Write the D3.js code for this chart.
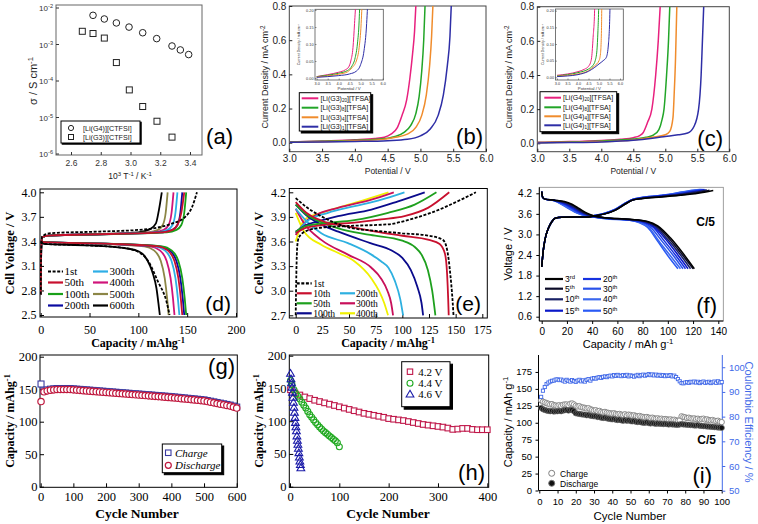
<!DOCTYPE html>
<html><head><meta charset="utf-8">
<script src="https://cdn.jsdelivr.net/npm/d3@7"></script>
<style>body{margin:0;background:#fff}svg{display:block}</style>
</head><body>
<svg id="c" width="758" height="524"></svg>
<script>
// ---------------- DATA ----------------
// (a) conductivity
const aTicksX = [2.6, 2.8, 3.0, 3.2, 3.4];
const aTicksY = [1e-2, 1e-3, 1e-4, 1e-5, 1e-6];
const aTickExp = ["-2", "-3", "-4", "-5", "-6"];
const aG4x = [2.748, 2.824, 2.905, 2.99, 3.082, 3.176, 3.279, 3.335, 3.391];
const aG4y = [6.3e-3, 5.0e-3, 3.9e-3, 3.0e-3, 2.1e-3, 1.45e-3, 9.1e-4, 7.1e-4, 5.3e-4];
const aG3x = [2.676, 2.748, 2.824, 2.905, 2.992, 3.082, 3.178, 3.279];
const aG3y = [2.3e-3, 2.0e-3, 1.5e-3, 3.2e-4, 5.7e-5, 2.0e-5, 7.9e-6, 2.9e-6];
const aLegend = ["[Li(G4)][CTFSI]", "[Li(G3)][CTFSI]"];

// (b),(c) LSV curves [V, mA cm-2]
const potTicks = [3.0, 3.5, 4.0, 4.5, 5.0, 5.5, 6.0];
const curTicks = [0.0, 0.2, 0.4, 0.6, 0.8];
const insetTicksY = [0.00, 0.05, 0.10, 0.15, 0.20];
const bCurves = [
  [[3.0,0.004],[3.5,0.01],[4.0,0.017],[4.3,0.024],[4.45,0.032],[4.55,0.05],[4.65,0.09],[4.72,0.16],[4.79,0.25],[4.84,0.38],[4.88,0.52],[4.91,0.65],[4.93,0.8]],
  [[3.0,0.004],[3.5,0.008],[4.0,0.014],[4.4,0.022],[4.6,0.035],[4.75,0.06],[4.85,0.1],[4.93,0.17],[4.98,0.27],[5.02,0.42],[5.05,0.6],[5.07,0.8]],
  [[3.0,0.003],[3.5,0.006],[4.0,0.011],[4.4,0.018],[4.6,0.03],[4.8,0.05],[4.93,0.09],[5.02,0.16],[5.09,0.28],[5.14,0.45],[5.17,0.62],[5.19,0.8]],
  [[3.0,0.002],[3.5,0.004],[4.0,0.007],[4.5,0.012],[4.8,0.02],[5.0,0.04],[5.15,0.08],[5.27,0.16],[5.35,0.28],[5.41,0.45],[5.45,0.62],[5.47,0.8]]
];
const cCurves = [
  [[3.0,0.006],[3.5,0.01],[4.0,0.017],[4.3,0.024],[4.5,0.033],[4.6,0.045],[4.65,0.06],[4.72,0.12],[4.79,0.2],[4.85,0.4],[4.89,0.6],[4.92,0.8]],
  [[3.0,0.004],[3.5,0.008],[4.0,0.014],[4.5,0.025],[4.7,0.035],[4.82,0.05],[4.9,0.08],[4.95,0.14],[4.98,0.2],[5.02,0.4],[5.05,0.6],[5.07,0.8]],
  [[3.0,0.003],[3.5,0.006],[4.0,0.01],[4.5,0.02],[4.8,0.035],[5.0,0.05],[5.07,0.07],[5.12,0.15],[5.14,0.3],[5.16,0.5],[5.17,0.65],[5.18,0.8]],
  [[3.0,0.002],[3.5,0.004],[4.0,0.008],[4.5,0.018],[4.8,0.03],[5.0,0.04],[5.2,0.05],[5.35,0.06],[5.45,0.1],[5.52,0.2],[5.56,0.4],[5.58,0.6],[5.6,0.8]]
];
const lsvColors = ["#e8207e", "#22a528", "#f08c2c", "#2e2ea6"];
const bLegend = [["[Li(G3)","20","][TFSA]"],["[Li(G3)","8","][TFSA]"],["[Li(G3)","4","][TFSA]"],["[Li(G3)","1","][TFSA]"]];
const cLegend = [["[Li(G4)","20","][TFSA]"],["[Li(G4)","8","][TFSA]"],["[Li(G4)","4","][TFSA]"],["[Li(G4)","1","][TFSA]"]];

// (d) charge/discharge curves [mAh/g, V]
const dTicksX = [0, 50, 100, 150, 200];
const dTicksY = [2.5, 2.8, 3.1, 3.4, 3.7, 4.0];
const dNames = ["1st", "50th", "100th", "200th", "300th", "400th", "500th", "600th"];
const dColors = ["#000", "#c8102e", "#18a018", "#0a0aa0", "#2eaee6", "#d0147a", "#8c8646", "#000"];
const dCharge = [
  [[0,2.75],[0.5,3.3],[1.5,3.46],[10,3.5],[60,3.52],[100,3.54],[120,3.57],[135,3.62],[148,3.7],[155,3.82],[160,4.0]],
  [[0,2.75],[0.5,3.3],[1.5,3.45],[8,3.47],[70,3.49],[125,3.51],[135,3.54],[140,3.6],[144,3.75],[147,4.0]],
  [[0,2.75],[0.5,3.3],[1.5,3.45],[8,3.47],[75,3.49],[129,3.51],[139,3.54],[144,3.6],[147,3.75],[149,4.0]],
  [[0,2.75],[0.5,3.3],[1.5,3.45],[8,3.47],[72,3.49],[125,3.51],[135,3.54],[140,3.6],[143,3.75],[145,4.0]],
  [[0,2.75],[0.5,3.3],[1.5,3.45],[8,3.47],[70,3.49],[120,3.51],[130,3.54],[135,3.6],[138,3.75],[140,4.0]],
  [[0,2.75],[0.5,3.3],[1.5,3.45],[8,3.47],[68,3.49],[116,3.51],[126,3.54],[131,3.6],[134,3.75],[136,4.0]],
  [[0,2.75],[0.5,3.3],[1.5,3.45],[8,3.47],[65,3.49],[110,3.51],[120,3.54],[125,3.6],[128,3.75],[130,4.0]],
  [[0,2.75],[0.5,3.3],[1.5,3.45],[8,3.47],[62,3.49],[100,3.51],[112,3.55],[118,3.62],[121,3.78],[124,4.0]]
];
const dDischarge = [
  [[0,3.4],[3,3.37],[50,3.35],[85,3.32],[100,3.27],[110,3.16],[120,2.91],[128.7,2.67],[132,2.5]],
  [[0,3.41],[3,3.39],[72,3.37],[120,3.34],[130,3.29],[137,3.16],[141,2.95],[143.5,2.7],[145,2.5]],
  [[0,3.41],[3,3.39],[75,3.37],[124,3.34],[134,3.29],[141,3.16],[145,2.95],[147.5,2.7],[149,2.5]],
  [[0,3.41],[3,3.39],[73,3.37],[122,3.34],[132,3.29],[139,3.16],[143,2.95],[145.5,2.7],[147,2.5]],
  [[0,3.41],[3,3.39],[71,3.37],[117,3.34],[127,3.29],[134,3.16],[138,2.95],[140.5,2.7],[142,2.5]],
  [[0,3.41],[3,3.39],[68,3.37],[112,3.34],[122,3.29],[129,3.16],[133,2.95],[135.5,2.7],[137,2.5]],
  [[0,3.41],[3,3.39],[65,3.37],[106,3.34],[116,3.29],[123,3.16],[127,2.95],[129.5,2.7],[131,2.5]],
  [[0,3.4],[3,3.37],[50,3.35],[90,3.31],[100,3.28],[106.5,3.22],[112,3.1],[115,3.0],[118.5,2.83],[121,2.6],[122,2.5]]
];

// (e)
const eTicksX = [0, 25, 50, 75, 100, 125, 150, 175];
const eTicksY = [2.7, 3.0, 3.3, 3.6, 3.9, 4.2];
const eNames = ["1st", "10th", "50th", "100th", "200th", "300th", "400th"];
const eColors = ["#000", "#c8102e", "#1ea01e", "#0a0a8c", "#2eb0e0", "#c8105a", "#f0f000"];
const eCharge = [
  [[0,2.7],[0.6,3.2],[1.5,3.55],[3,3.65],[10,3.73],[25,3.77],[50,3.79],[87,3.81],[110,3.88],[127,3.95],[155,4.11],[169,4.2]],
  [[0,3.7],[10,3.77],[25,3.8],[55,3.83],[80,3.87],[102,3.91],[124,4.01],[144,4.2]],
  [[0,3.72],[10,3.79],[25,3.82],[55,3.86],[86.6,3.95],[111.6,4.05],[132,4.2]],
  [[0,3.72],[10,3.8],[25,3.86],[39.7,3.91],[71,3.99],[96,4.09],[121,4.2]],
  [[0,3.7],[10,3.84],[30.3,3.95],[55.3,4.03],[80.3,4.11],[102,4.2]],
  [[0,3.68],[10,3.85],[20,3.93],[39.7,4.01],[71,4.11],[92,4.2]],
  [[0,3.6],[8.4,3.87],[24,3.95],[55.3,4.07],[87,4.2]]
];
const eDischarge = [
  [[0,4.13],[10,4.02],[25,3.9],[50,3.77],[75,3.73],[100,3.7],[125,3.67],[138,3.62],[142,3.5],[145,3.2],[147,2.9],[148,2.7]],
  [[0,4.08],[10,3.95],[25,3.85],[50,3.78],[75,3.72],[100,3.67],[125,3.62],[135,3.57],[140,3.45],[142,3.2],[143,2.9],[143.5,2.7]],
  [[0,4.05],[10,3.93],[25,3.83],[40,3.76],[70,3.68],[100,3.61],[112,3.53],[118,3.44],[124,3.25],[128,3.0],[131,2.7]],
  [[0,4.05],[10,3.92],[25,3.8],[40,3.72],[70,3.58],[90,3.49],[100,3.4],[108,3.25],[114,3.05],[118,2.85],[119.5,2.7]],
  [[0,4.0],[10,3.85],[24,3.7],[49,3.58],[71,3.44],[80,3.36],[87,3.28],[93,3.12],[98,2.9],[100.7,2.7]],
  [[0,4.0],[8,3.82],[24,3.62],[49,3.44],[71,3.28],[80,3.15],[86,3.0],[89.5,2.85],[91.3,2.7]],
  [[0,3.95],[8,3.72],[24,3.56],[40,3.46],[55,3.36],[71,3.15],[78,3.0],[83,2.85],[86.6,2.7]]
];

// (f)
const fTicksX = [0, 20, 40, 60, 80, 100, 120, 140];
const fTicksY = [0.6, 1.2, 1.8, 2.4, 3.0, 3.6, 4.2];
const fNames = [["3","rd"],["5","th"],["10","th"],["15","th"],["20","th"],["30","th"],["40","th"],["50","th"]];
const fColors = ["#000000", "#0c0c28", "#1a2266", "#0a18c8", "#1632e0", "#2a52ea", "#3c68ee", "#2a5af5"];
const fCharge = [
  [[0,2.05],[1.3,2.55],[2.6,2.85],[5.3,3.18],[8,3.37],[10.6,3.47],[16,3.5],[37,3.51],[42,3.54],[50,3.6],[58,3.7],[66,3.88],[72,4.0],[80,4.05],[95,4.09],[110,4.14],[124,4.2],[136,4.28]],
  [[0,2.05],[1.3,2.55],[2.6,2.85],[5.3,3.18],[8,3.37],[10.6,3.47],[16,3.5],[37,3.51],[42,3.54],[50,3.6],[58,3.7],[66,3.88],[72,4.0],[80,4.05],[95,4.1],[110,4.15],[122,4.21],[133,4.29]],
  [[0,2.05],[1.3,2.55],[2.6,2.85],[5.3,3.18],[8,3.37],[10.6,3.47],[16,3.5],[37,3.51],[42,3.54],[50,3.6],[58,3.71],[66,3.89],[72,4.0],[80,4.06],[95,4.11],[110,4.17],[121,4.23],[131,4.3]],
  [[0,2.05],[1.3,2.55],[2.6,2.85],[5.3,3.18],[8,3.37],[10.6,3.47],[16,3.5],[37,3.51],[42,3.54],[50,3.6],[58,3.71],[66,3.89],[72,4.01],[80,4.06],[95,4.12],[110,4.18],[120,4.24],[130,4.3]],
  [[0,2.05],[1.3,2.55],[2.6,2.85],[5.3,3.18],[8,3.37],[10.6,3.47],[16,3.5],[37,3.51],[42,3.55],[50,3.61],[58,3.72],[66,3.9],[72,4.01],[78,4.06],[95,4.13],[110,4.19],[119,4.25],[129,4.31]],
  [[0,2.05],[1.3,2.55],[2.6,2.85],[5.3,3.18],[8,3.37],[10.6,3.47],[16,3.5],[37,3.51],[42,3.55],[50,3.61],[58,3.72],[66,3.9],[72,4.02],[78,4.06],[95,4.13],[108,4.2],[118,4.26],[128,4.31]],
  [[0,2.05],[1.3,2.55],[2.6,2.85],[5.3,3.18],[8,3.37],[10.6,3.47],[16,3.5],[37,3.51],[42,3.55],[50,3.62],[58,3.73],[66,3.91],[72,4.02],[78,4.07],[95,4.14],[108,4.21],[117,4.27],[127,4.31]],
  [[0,2.05],[1.3,2.55],[2.6,2.85],[5.3,3.18],[8,3.37],[10.6,3.47],[16,3.5],[37,3.51],[42,3.55],[50,3.62],[58,3.73],[66,3.91],[72,4.02],[78,4.07],[95,4.14],[107,4.21],[116,4.27],[126,4.31]]
];
const fDischarge = [
  [[0,4.25],[0.8,4.08],[2.6,4.03],[10,4.0],[18,3.96],[24,3.88],[30,3.75],[36,3.62],[42,3.54],[50,3.49],[70,3.44],[84,3.38],[92,3.25],[102,2.9],[112,2.45],[121,2.0]],
  [[0,4.25],[0.8,4.08],[2.6,4.03],[10,4.0],[18,3.95],[24,3.86],[30,3.72],[36,3.6],[42,3.53],[50,3.49],[70,3.44],[83,3.38],[91,3.25],[101,2.88],[111,2.43],[120,2.0]],
  [[0,4.25],[0.8,4.08],[2.6,4.03],[10,4.0],[18,3.93],[24,3.83],[30,3.69],[36,3.58],[42,3.52],[50,3.48],[70,3.43],[82,3.37],[90,3.24],[100,2.85],[110,2.4],[118,2.0]],
  [[0,4.25],[0.8,4.08],[2.6,4.03],[10,4.0],[18,3.91],[24,3.8],[30,3.67],[36,3.57],[42,3.52],[50,3.48],[70,3.43],[81,3.37],[89,3.23],[99,2.83],[108,2.4],[116,2.0]],
  [[0,4.25],[0.8,4.08],[2.6,4.03],[10,3.99],[17,3.9],[23,3.79],[29,3.66],[35,3.57],[42,3.51],[50,3.48],[70,3.42],[80,3.36],[88,3.22],[97,2.82],[106,2.4],[114,2.0]],
  [[0,4.25],[0.8,4.08],[2.6,4.03],[10,3.99],[17,3.89],[23,3.77],[29,3.64],[35,3.56],[42,3.51],[50,3.47],[70,3.42],[79,3.36],[86,3.22],[95,2.82],[104,2.4],[112,2.0]],
  [[0,4.25],[0.8,4.08],[2.6,4.03],[10,3.98],[16,3.88],[22,3.76],[28,3.63],[34,3.55],[42,3.5],[50,3.47],[70,3.41],[78,3.35],[85,3.2],[93,2.8],[102,2.38],[110,2.0]],
  [[0,4.25],[0.8,4.08],[2.6,4.03],[10,3.98],[16,3.87],[22,3.74],[28,3.62],[34,3.55],[42,3.5],[50,3.46],[70,3.41],[77,3.35],[84,3.2],[92,2.8],[100,2.38],[108,2.0]]
];

// (g) cycling 600 cycles
const gTicksX = [0, 100, 200, 300, 400, 500, 600];
const capTicks = [0, 50, 100, 150, 200];
const gCycle = [1,10,20,30,40,50,60,70,80,90,100,110,120,130,140,150,160,170,180,190,200,210,220,230,240,250,260,270,280,290,300,310,320,330,340,350,360,370,380,390,400,410,420,430,440,450,460,470,480,490,500,510,520,530,540,550,560,570,580,590,600];
const gDischarge = [131,146,147.5,148.5,149,149.5,149.5,149.5,149.5,149.5,149,148.6,148.2,147.8,147.4,147,146.6,146.2,145.8,145.4,145,144.6,144.2,143.8,143.4,143,142.6,142.2,141.8,141.4,141,140.6,140.2,139.8,139.4,139,138.6,138.2,137.8,137.4,137,136.5,136,135.5,135,134.5,134,133.5,133,132.5,132,131,130,129,128,127,126,125,124,122.5,121];
const gCharge = [158,147.5,149,150,150.5,151,151,151,151,151,150.5,150,149.7,149.3,148.9,148.5,148.1,147.7,147.3,146.9,146.5,146.1,145.7,145.3,144.9,144.5,144.1,143.7,143.3,142.9,142.5,142.1,141.7,141.3,140.9,140.5,140.1,139.7,139.3,138.9,138.5,138,137.5,137,136.5,136,135.5,135,134.5,134,133.5,132.5,131.5,130.5,129.5,128.5,127.5,126.5,125.5,124,122.5];

// (h) cut-off voltage
const hTicksX = [0, 100, 200, 300, 400];
const h42Cycle = [1,10,20,30,40,50,60,70,80,90,100,110,120,130,140,150,160,170,180,190,200,210,220,230,240,250,260,270,280,290,300,310,320,330,340,350,360,370,380,390,400];
const h42 = [148,143,140,137,134.5,132,130,128,126,124,122,120,118,116,114,112,110.5,109,107.5,106,104,103,102,101,99.5,98,96.5,95,94,93,92,91,89.5,87.5,88,89,89,87.5,87,87,87];
const h44Cycle = [1,4,8,12,16,20,24,28,32,36,40,44,48,52,56,60,64,68,72,76,80,84,88,92,96,100];
const h44 = [162,156,148,142,138,134,129,124.5,120,115,110,106,102,98,94.5,91,88,85,82.5,80,77.5,75,72.5,70,67,61];
const h46Cycle = [1,2,3,4,5,6,7,8,9,10,11,12,13,14,15,16,17,18,19,20,21,22];
const h46 = [172,163.6,157.6,150.9,143.2,135.5,127.8,120.1,112.4,104.7,97,90.3,84.2,76.5,69.8,63.7,57.5,50.8,44.1,38,32.8,27.7];
const hLegend = ["4.2 V", "4.4 V", "4.6 V"];

// (i) 100 cycles with coulombic efficiency
const iTicksX = [0,10,20,30,40,50,60,70,80,90,100];
const iTicksL = [0,25,50,75,100,125,150,175];
const iTicksR = [50,60,70,80,90,100];
const iCycle = [1,2,3,4,5,6,7,8,9,10,11,12,13,14,15,16,17,18,19,20,21,22,23,24,25,26,27,28,29,30,31,32,33,34,35,36,37,38,39,40,41,42,43,44,45,46,47,48,49,50,51,52,53,54,55,56,57,58,59,60,61,62,63,64,65,66,67,68,69,70,71,72,73,74,75,76,77,78,79,80,81,82,83,84,85,86,87,88,89,90,91,92,93,94,95,96,97,98,99,100];
const iCharge = [133,131,130,129,128,127,127.5,126,125.5,125,126,125,126.5,127,127,126,128,128.5,127,125,124,124.5,123,122.5,122,121,121.5,120,119,118,118.5,117,117.5,116,115.5,116,115,114.5,114,113.5,114,113,112.5,113,112,111.5,112.5,111,112,111.5,110.5,111,110,109.5,110,109,108.5,108,108.5,107.5,107,107.5,106.5,106,106.5,105.5,106,105,105.5,105,104.5,105,104,104.5,103.5,103,103.5,109.5,108.5,108,107,107.5,106.5,106,106.5,105.5,106,105,105.5,106,104.5,105,104,103.5,104,103,102.5,103,101.5,101];
const iDischarge = [122,120,119,118,117.5,117,117.5,116.5,117,117,117.5,117,118,118.5,119,118,119,119,117,114,113.5,113,112.5,112,112,111,111.5,110.5,110,109.5,109.5,108.5,108.5,107.5,107,107.5,106.5,106,105.5,105,105.5,104.5,104,104.5,103.5,103,104,103,103.5,102.5,102,102.5,101.5,101,101.5,100.5,100,100,100.5,99.5,99,99.5,99,98.5,99,98.5,98.5,98,98.5,98,97.5,98,97.5,97.5,97,97,97.5,98,97.5,97.5,97,97,96.5,96.5,96,96,96.5,95.5,95.5,95,95,94.5,94.5,94,94,93.5,93.5,93,93,92.5];
const iCE = [88,90.5,92,93.2,93.8,94.2,94.5,94.6,95,95.1,94.8,95,94.6,94.2,94.9,94.5,94.2,94.8,94.4,94.1,94.6,94.9,94.3,94.7,94.2,94.9,95.2,94.6,95.4,95.6,95.4,95.8,96,95.7,96.1,96.3,96,96.4,96.6,96.3,96.8,96.5,96.9,96.6,96.4,96.8,96.5,96.9,96.3,96.7,96.5,96.2,96.6,96.9,96.4,96.8,97,96.6,96.9,97.2,96.8,97.1,96.7,97,96.6,96.9,96.5,96.8,96.4,96.7,96.5,96.8,96.3,96.6,96,95.2,94.3,93.6,93.5,93.8,94,93.7,94.1,93.9,94.2,93.8,94.1,93.6,94,94.2,93.7,93.9,94.1,93.6,93.9,94.2,93.7,94.3,93.8,94];

// ---------------- DRAWING ----------------
const svg = d3.select('#c');
const SANS = "'Liberation Sans', Arial, Helvetica, sans-serif";
const SERIF = "'Liberation Serif', 'Times New Roman', Times, serif";
const ln = (xs, ys) => d3.line().x(d => xs(d[0])).y(d => ys(d[1])).curve(d3.curveMonotoneX);

function box(x0, y0, x1, y1, stroke = '#000', sw = 1, fill = 'none') {
  return svg.append('rect').attr('x', x0).attr('y', y0).attr('width', x1 - x0).attr('height', y1 - y0)
    .attr('fill', fill).attr('stroke', stroke).attr('stroke-width', sw);
}
function clip(id, x0, y0, x1, y1) {
  svg.append('clipPath').attr('id', id).append('rect').attr('x', x0).attr('y', y0).attr('width', x1 - x0).attr('height', y1 - y0);
}
function txt(x, y, parts, o = {}) {
  const t = svg.append('text').attr('x', x).attr('y', y).attr('font-family', o.font || SANS)
    .attr('font-size', o.fs || 10).attr('text-anchor', o.anchor || 'start').attr('fill', o.color || '#000');
  if (o.bold) t.attr('font-weight', 'bold');
  if (o.italic) t.attr('font-style', 'italic');
  if (o.rot) t.attr('transform', `rotate(${o.rot},${x},${y})`);
  (typeof parts === 'string' ? [[parts]] : parts).forEach(([s, k]) => {
    const ts = t.append('tspan').text(s);
    if (k === 'sup') ts.attr('baseline-shift', 'super').attr('font-size', '70%');
    if (k === 'sub') ts.attr('baseline-shift', 'sub').attr('font-size', '70%');
    if (k === 'lowsub') ts.attr('baseline-shift', '-1.2').attr('font-size', '65%');
  });
  return t;
}
function axB(scale, y, vals, fmt, o) {
  const g = svg.append('g').attr('transform', `translate(0,${y})`)
    .call(d3.axisBottom(scale).tickValues(vals).tickFormat(fmt).tickSizeInner(-(o.tick || 4)).tickSizeOuter(0)
      .tickPadding(o.base - y - 0.71 * o.fs));
  g.select('.domain').remove();
  g.selectAll('text').attr('font-family', o.font).attr('font-size', o.fs).attr('fill', o.color || '#000');
  g.selectAll('line').attr('stroke', o.color || '#000').attr('stroke-width', o.tw || 1);
  return g;
}
function axL(scale, x, vals, fmt, o) {
  const g = svg.append('g').attr('transform', `translate(${x},0)`)
    .call(d3.axisLeft(scale).tickValues(vals).tickFormat(fmt).tickSizeInner(-(o.tick || 4)).tickSizeOuter(0)
      .tickPadding(x - o.right));
  g.select('.domain').remove();
  g.selectAll('text').attr('font-family', o.font).attr('font-size', o.fs).attr('fill', o.color || '#000');
  g.selectAll('line').attr('stroke', o.color || '#000').attr('stroke-width', o.tw || 1);
  return g;
}
function axR(scale, x, vals, fmt, o) {
  const g = svg.append('g').attr('transform', `translate(${x},0)`)
    .call(d3.axisRight(scale).tickValues(vals).tickFormat(fmt).tickSizeInner(-(o.tick || 4)).tickSizeOuter(0)
      .tickPadding(o.left - x));
  g.select('.domain').remove();
  g.selectAll('text').attr('font-family', o.font).attr('font-size', o.fs).attr('fill', o.color || '#000');
  g.selectAll('line').attr('stroke', o.color || '#000').attr('stroke-width', o.tw || 1);
  return g;
}
function shadowBox(x0, y0, x1, y1, off = 2) {
  box(x0 + off, y0 + off, x1 + off, y1 + off, '#000', 1, '#000');
  box(x0, y0, x1, y1, '#000', 1, '#fff');
}
const f1 = d => d.toFixed(1);
const f0 = d => String(d);

// ===== (a) =====
{
  const x = d3.scaleLinear([2.6, 3.4], [71, 190]);
  const y = d3.scaleLog([1e-6, 1e-2], [154, 8]);
  box(56, 5, 202, 155, '#666', 1);
  axB(x, 155, aTicksX, f1, { base: 166, fs: 8.5, font: SANS, tick: 3, color: '#333' });
  aTicksY.forEach((v, i) => {
    svg.append('line').attr('x1', 56).attr('x2', 59).attr('y1', y(v)).attr('y2', y(v)).attr('stroke', '#333');
    txt(53, y(v) + 3, [["10"], [aTickExp[i], 'sup']], { fs: 8, anchor: 'end', color: '#333' });
  });
  aG3x.forEach((v, i) => svg.append('rect').attr('x', x(v) - 3).attr('y', y(aG3y[i]) - 3).attr('width', 6).attr('height', 6)
    .attr('fill', '#fff').attr('stroke', '#222').attr('stroke-width', 1));
  aG4x.forEach((v, i) => svg.append('circle').attr('cx', x(v)).attr('cy', y(aG4y[i])).attr('r', 3.3)
    .attr('fill', '#fff').attr('stroke', '#222').attr('stroke-width', 1));
  shadowBox(61, 121, 140, 143, 1.2);
  svg.append('circle').attr('cx', 71).attr('cy', 128).attr('r', 2.6).attr('fill', '#fff').attr('stroke', '#222');
  svg.append('rect').attr('x', 68.5).attr('y', 134.5).attr('width', 5).attr('height', 5).attr('fill', '#fff').attr('stroke', '#222');
  txt(83, 130.5, aLegend[0], { fs: 7.2, color: '#222' });
  txt(83, 139.5, aLegend[1], { fs: 7.2, color: '#222' });
  txt(37, 81, [["σ / S cm"], ["-1", 'sup']], { fs: 11, anchor: 'middle', rot: -90, color: '#222' });
  txt(130, 179, [["10"], ["3", 'sup'], [" T"], ["-1", 'sup'], [" / K"], ["-1", 'sup']], { fs: 8.5, anchor: 'middle', color: '#222' });
  txt(233, 144, "(a)", { fs: 22, anchor: 'end' });
}

// ===== (b),(c) =====
function lsvPanel(P) {
  const x = d3.scaleLinear([3, 6], [P.x0, P.x1]);
  const y = d3.scaleLinear([0, 0.8], [P.y0, P.y8]);
  clip(P.id, P.fx0, P.y8, P.fx1, P.fy1);
  box(P.fx0, P.y8, P.fx1, P.fy1, '#444', 1);
  axB(x, P.fy1, potTicks, f1, { base: 162, fs: 10, font: SANS, tick: 3, color: '#222' });
  axL(y, P.fx0, curTicks, f1, { right: P.fx0 - 3, fs: 10, font: SANS, tick: 3, color: '#222' });
  P.curves.forEach((c, i) => svg.append('path').datum(c).attr('d', ln(x, y)).attr('fill', 'none')
    .attr('stroke', lsvColors[i]).attr('stroke-width', 1.5).attr('clip-path', `url(#${P.id})`));
  // inset
  const I = P.inset;
  const xi = d3.scaleLinear([3, 6], [I.x0, I.x1]);
  const yi = d3.scaleLinear([0, 0.2], [I.y0, I.y2]);
  clip(P.id + 'i', I.fx0, I.fy0, I.fx1, I.fy1);
  box(I.fx0, I.fy0, I.fx1, I.fy1, '#555', 0.8, '#fff');
  axB(xi, I.fy1, potTicks, f1, { base: I.fy1 + 5, fs: 3.8, font: SANS, tick: 1.5, color: '#333', tw: 0.5 });
  axL(yi, I.fx0, insetTicksY, d => d.toFixed(2), { right: I.fx0 - 1.5, fs: 3.8, font: SANS, tick: 1.5, color: '#333', tw: 0.5 });
  P.curves.forEach((c, i) => svg.append('path').datum(c).attr('d', ln(xi, yi)).attr('fill', 'none')
    .attr('stroke', lsvColors[i]).attr('stroke-width', 1).attr('clip-path', `url(#${P.id}i)`));
  txt((I.fx0 + I.fx1) / 2, I.fy1 + 10, "Potential / V", { fs: 4.3, anchor: 'middle', color: '#333' });
  txt(I.lx, (I.fy0 + I.fy1) / 2, [["Current Density / mA cm"], ["-2", 'sup']], { fs: 3.6, anchor: 'middle', rot: -90, color: '#333' });
  // legend
  const L = P.leg;
  shadowBox(L.x0, L.y0, L.x1, L.y1, 2);
  P.legend.forEach((t, i) => {
    svg.append('line').attr('x1', L.lx0).attr('x2', L.lx1).attr('y1', L.ys[i]).attr('y2', L.ys[i])
      .attr('stroke', lsvColors[i]).attr('stroke-width', 2);
    txt(L.tx, L.ys[i] + 2.5, [[t[0]], [t[1], 'lowsub'], [t[2]]], { fs: 7, color: '#111' });
  });
  txt(P.ylx, 77, [["Current Density / mA cm"], ["-2", 'sup']], { fs: 9, anchor: 'middle', rot: -90, color: '#222' });
  txt((P.fx0 + P.fx1) / 2, 174, "Potential / V", { fs: 8.5, anchor: 'middle', color: '#222' });
  txt(P.labX, P.labY, P.lab, { fs: 22, anchor: 'end' });
}
lsvPanel({ id: 'cb', x0: 289.3, x1: 486, y0: 142.7, y8: 6, fx0: 289.3, fx1: 486, fy1: 151.7, curves: bCurves, legend: bLegend,
  inset: { x0: 316.7, x1: 382.7, y0: 78, y2: 10, fx0: 315, fx1: 383.3, fy0: 9.3, fy1: 80, lx: 300.5 },
  leg: { x0: 299.3, y0: 92.7, x1: 370.7, y1: 131, lx0: 301.7, lx1: 318.3, tx: 320.5, ys: [98.3, 107.7, 117.3, 126.7] },
  ylx: 268, lab: "(b)", labX: 483, labY: 144 });
lsvPanel({ id: 'cc', x0: 537.3, x1: 729.3, y0: 143.3, y8: 6.7, fx0: 537.3, fx1: 729.3, fy1: 151.7, curves: cCurves, legend: cLegend,
  inset: { x0: 557, x1: 620, y0: 77.3, y2: 10.7, fx0: 555.5, fx1: 623.3, fy0: 9, fy1: 80, lx: 543.5 },
  leg: { x0: 540, y0: 91.7, x1: 616.7, y1: 131.7, lx0: 544.3, lx1: 561, tx: 563, ys: [97.7, 107.3, 116.3, 125.3] },
  ylx: 512, lab: "(c)", labX: 723, labY: 146 });

// ===== (d) =====
{
  const x = d3.scaleLinear([0, 200], [40.7, 236]);
  const y = d3.scaleLinear([2.5, 4.0], [315, 192.3]);
  clip('cd', 40, 189, 237, 317);
  box(40, 189, 237, 317, '#000', 1);
  axB(x, 317, dTicksX, f0, { base: 334, fs: 12, font: SERIF, tick: 4 });
  axL(y, 40, dTicksY, f1, { right: 36.5, fs: 12, font: SERIF, tick: 4 });
  for (let i = dNames.length - 1; i >= 0; i--) {
    [dCharge[i], dDischarge[i]].forEach(c => {
      const p = svg.append('path').datum(c).attr('d', ln(x, y)).attr('fill', 'none').attr('stroke', dColors[i])
        .attr('stroke-width', 1.8).attr('clip-path', 'url(#cd)');
      if (i === 0) p.attr('stroke-dasharray', '3,1.6');
    });
  }
  const ys = [271.5, 282.5, 294, 305.5];
  dNames.forEach((n, i) => {
    const col = i < 4 ? 0 : 1, r = i % 4;
    const lx = col ? 93 : 48, tx = col ? 109.5 : 64.5;
    const l = svg.append('line').attr('x1', lx).attr('x2', lx + 15).attr('y1', ys[r]).attr('y2', ys[r])
      .attr('stroke', dColors[i]).attr('stroke-width', 2.2);
    if (i === 0) l.attr('stroke-dasharray', '3,1.6');
    txt(tx, ys[r] + 3.8, n, { fs: 11, font: SERIF });
  });
  txt(14, 253, "Cell Voltage / V", { fs: 12.5, font: SERIF, bold: true, anchor: 'middle', rot: -90 });
  txt(138, 347, [["Capacity / mAhg"], ["-1", 'sup']], { fs: 12, font: SERIF, bold: true, anchor: 'middle' });
  txt(231, 311, "(d)", { fs: 21, anchor: 'end' });
}

// ===== (e) =====
{
  const x = d3.scaleLinear([0, 175], [295.7, 482.3]);
  const y = d3.scaleLinear([2.7, 4.2], [315.3, 192.3]);
  clip('ce', 289.3, 188.5, 487.3, 318);
  box(289.3, 188.5, 487.3, 318, '#000', 1);
  axB(x, 318, eTicksX, f0, { base: 334, fs: 12, font: SERIF, tick: 4 });
  axL(y, 289.3, eTicksY, f1, { right: 286, fs: 12, font: SERIF, tick: 4 });
  for (let i = eNames.length - 1; i >= 0; i--) {
    [eCharge[i], eDischarge[i]].forEach(c => {
      const p = svg.append('path').datum(c).attr('d', ln(x, y)).attr('fill', 'none').attr('stroke', eColors[i])
        .attr('stroke-width', 1.8).attr('clip-path', 'url(#ce)');
      if (i === 0) p.attr('stroke-dasharray', '3,1.6');
    });
  }
  const ys = [283.3, 293.3, 303.3, 313.3];
  eNames.forEach((n, i) => {
    const col = i < 4 ? 0 : 1, r = col ? i - 3 : i;
    const lx = col ? 340 : 296.7, tx = col ? 356 : 313.3;
    const l = svg.append('line').attr('x1', lx).attr('x2', lx + 15).attr('y1', ys[r]).attr('y2', ys[r])
      .attr('stroke', eColors[i]).attr('stroke-width', 2.2);
    if (i === 0) l.attr('stroke-dasharray', '3,1.6');
    txt(tx, ys[r] + 3.4, n, { fs: 9.6, font: SERIF });
  });
  txt(263, 253, "Cell Voltage / V", { fs: 12.5, font: SERIF, bold: true, anchor: 'middle', rot: -90 });
  txt(388, 347, [["Capacity / mAhg"], ["-1", 'sup']], { fs: 12, font: SERIF, bold: true, anchor: 'middle' });
  txt(481, 311, "(e)", { fs: 21, anchor: 'end' });
}

// ===== (f) =====
{
  const x = d3.scaleLinear([0, 140], [541.7, 718.3]);
  const y = d3.scaleLinear([0.6, 4.2], [316.7, 193.3]);
  clip('cf', 539.3, 187.3, 723.3, 321);
  box(539.3, 187.3, 723.3, 321, '#888', 0.8);
  svg.append('line').attr('x1', 539.3).attr('x2', 539.3).attr('y1', 187.3).attr('y2', 321).attr('stroke', '#000');
  svg.append('line').attr('x1', 539.3).attr('x2', 723.3).attr('y1', 321).attr('y2', 321).attr('stroke', '#000');
  axB(x, 321, fTicksX, f0, { base: 332, fs: 10, font: SANS, tick: -3 });
  axL(y, 539.3, fTicksY, f1, { right: 535, fs: 10, font: SANS, tick: -3 });
  for (let i = fNames.length - 1; i >= 0; i--) {
    [fCharge[i], fDischarge[i]].forEach(c => svg.append('path').datum(c).attr('d', ln(x, y)).attr('fill', 'none')
      .attr('stroke', fColors[i]).attr('stroke-width', 1.5).attr('clip-path', 'url(#cf)'));
  }
  const ys = [279, 288.7, 299.3, 310.7];
  fNames.forEach((n, i) => {
    const col = i < 4 ? 0 : 1, r = i % 4;
    const lx = col ? 583 : 545, tx = col ? 603 : 565;
    svg.append('line').attr('x1', lx).attr('x2', lx + 18).attr('y1', ys[r]).attr('y2', ys[r])
      .attr('stroke', fColors[i]).attr('stroke-width', 2.2);
    txt(tx, ys[r] + 3, [[n[0]], [n[1], 'sup']], { fs: 8.5 });
  });
  txt(715, 226, "C/5", { fs: 12, bold: true, anchor: 'end' });
  txt(512, 254, "Voltage / V", { fs: 11, anchor: 'middle', rot: -90 });
  txt(628, 348, [["Capacity / mAh g"], ["-1", 'sup']], { fs: 11, anchor: 'middle' });
  txt(717, 313, "(f)", { fs: 22, anchor: 'end' });
}

// ===== (g) =====
{
  const x = d3.scaleLinear([0, 600], [40.7, 236.7]);
  const y = d3.scaleLinear([0, 200], [486.7, 356.7]);
  box(40, 355, 237.3, 487.3, '#000', 1);
  axB(x, 487.3, gTicksX, f0, { base: 501, fs: 12.5, font: SERIF, tick: 4 });
  axL(y, 40, capTicks, f0, { right: 37.5, fs: 12.5, font: SERIF, tick: 4 });
  gCycle.forEach((c, i) => svg.append('rect').attr('x', x(c) - 3).attr('y', y(gCharge[i]) - 3).attr('width', 6).attr('height', 6)
    .attr('fill', '#fff').attr('stroke', '#3a3aa0').attr('stroke-width', 1.1));
  gCycle.forEach((c, i) => svg.append('circle').attr('cx', x(c)).attr('cy', y(gDischarge[i])).attr('r', 3.2)
    .attr('fill', '#fff').attr('stroke', '#c0183e').attr('stroke-width', 1.2));
  shadowBox(162.3, 444, 221.7, 472.7, 2);
  svg.append('rect').attr('x', 165.5).attr('y', 450).attr('width', 5.5).attr('height', 5.5).attr('fill', '#fff').attr('stroke', '#3a3aa0').attr('stroke-width', 1.1);
  svg.append('circle').attr('cx', 168.3).attr('cy', 465.3).attr('r', 3).attr('fill', '#fff').attr('stroke', '#c0183e').attr('stroke-width', 1.2);
  txt(175, 456.5, "Charge", { fs: 11, font: SERIF, italic: true });
  txt(175, 469, "Discharge", { fs: 11, font: SERIF, italic: true });
  txt(14, 421, [["Capacity / mAhg"], ["-1", 'sup']], { fs: 12, font: SERIF, bold: true, anchor: 'middle', rot: -90 });
  txt(137, 518, "Cycle Number", { fs: 13.5, font: SERIF, bold: true, anchor: 'middle' });
  txt(235, 374, "(g)", { fs: 22, anchor: 'end' });
}

// ===== (h) =====
{
  const x = d3.scaleLinear([0, 400], [290, 487.3]);
  const y = d3.scaleLinear([0, 200], [486.7, 355.7]);
  box(289.3, 355, 488.7, 487.3, '#000', 1);
  axB(x, 487.3, hTicksX, f0, { base: 501, fs: 12.5, font: SERIF, tick: 4 });
  axL(y, 289.3, capTicks, f0, { right: 286.5, fs: 12.5, font: SERIF, tick: 4 });
  const sq = '#c0184a', ci = '#22aa22', tr = '#1a1aa8';
  h42Cycle.forEach((c, i) => svg.append('rect').attr('x', x(c) - 2.8).attr('y', y(h42[i]) - 2.8).attr('width', 5.6).attr('height', 5.6)
    .attr('fill', '#fff').attr('stroke', sq).attr('stroke-width', 1.1));
  h44Cycle.forEach((c, i) => svg.append('circle').attr('cx', x(c)).attr('cy', y(h44[i])).attr('r', 3)
    .attr('fill', 'none').attr('stroke', ci).attr('stroke-width', 1.1));
  const tri = d3.symbol().type(d3.symbolTriangle).size(26);
  h46Cycle.forEach((c, i) => svg.append('path').attr('d', tri()).attr('transform', `translate(${x(c)},${y(h46[i])})`)
    .attr('fill', 'none').attr('stroke', tr).attr('stroke-width', 1.1));
  shadowBox(401.7, 361.7, 450, 406.7, 2.5);
  svg.append('rect').attr('x', 407.3).attr('y', 369).attr('width', 5.4).attr('height', 5.4).attr('fill', '#fff').attr('stroke', sq).attr('stroke-width', 1.1);
  svg.append('circle').attr('cx', 410).attr('cy', 383.3).attr('r', 3).attr('fill', 'none').attr('stroke', ci).attr('stroke-width', 1.1);
  svg.append('path').attr('d', tri()).attr('transform', 'translate(410,394.8)').attr('fill', 'none').attr('stroke', tr).attr('stroke-width', 1.1);
  [371.7, 383.3, 394.3].forEach((yy, i) => txt(418.3, yy + 3.8, hLegend[i], { fs: 11, font: SERIF }));
  txt(263, 421, [["Capacity / mAhg"], ["-1", 'sup']], { fs: 12, font: SERIF, bold: true, anchor: 'middle', rot: -90 });
  txt(388, 518, "Cycle Number", { fs: 13.5, font: SERIF, bold: true, anchor: 'middle' });
  txt(485, 480, "(h)", { fs: 22, anchor: 'end' });
}

// ===== (i) =====
{
  const x = d3.scaleLinear([0, 100], [539.3, 721.7]);
  const yL = d3.scaleLinear([0, 200], [490.5, 355]);
  const yR = d3.scaleLinear([50, 105], [490.7, 354.9]);
  const blue = '#4169e8';
  svg.append('line').attr('x1', 538.5).attr('x2', 538.5).attr('y1', 355).attr('y2', 490.5).attr('stroke', '#000');
  svg.append('line').attr('x1', 538.5).attr('x2', 722.3).attr('y1', 490.5).attr('y2', 490.5).attr('stroke', '#000');
  svg.append('line').attr('x1', 722.3).attr('x2', 722.3).attr('y1', 355).attr('y2', 490.5).attr('stroke', blue);
  axB(x, 490.5, iTicksX, f0, { base: 502, fs: 9.5, font: SANS, tick: -3 });
  axL(yL, 538.5, iTicksL, f0, { right: 535, fs: 9.5, font: SANS, tick: -3 });
  axR(yR, 722.3, iTicksR, f0, { left: 726, fs: 9.5, font: SANS, tick: -3, color: blue });
  iCycle.forEach((c, i) => svg.append('circle').attr('cx', x(c)).attr('cy', yL(iCharge[i])).attr('r', 2.7)
    .attr('fill', '#fff').attr('stroke', '#808080').attr('stroke-width', 0.9));
  iCycle.forEach((c, i) => svg.append('circle').attr('cx', x(c)).attr('cy', yL(iDischarge[i])).attr('r', 2.7)
    .attr('fill', '#111').attr('stroke', '#777').attr('stroke-width', 0.7));
  iCycle.forEach((c, i) => svg.append('rect').attr('x', x(c) - 1.6).attr('y', yR(iCE[i]) - 1.6).attr('width', 3.2).attr('height', 3.2)
    .attr('fill', '#fff').attr('stroke', blue).attr('stroke-width', 0.9));
  svg.append('circle').attr('cx', 551.7).attr('cy', 473.3).attr('r', 3).attr('fill', '#fff').attr('stroke', '#808080');
  svg.append('circle').attr('cx', 551.7).attr('cy', 483.3).attr('r', 3).attr('fill', '#111').attr('stroke', '#777');
  txt(560, 476.5, "Charge", { fs: 8.5 });
  txt(560, 486.5, "Discharge", { fs: 8.5 });
  txt(716, 444, "C/5", { fs: 12, bold: true, anchor: 'end' });
  txt(512, 422, [["Capacity / mAh g"], ["-1", 'sup']], { fs: 11, anchor: 'middle', rot: -90 });
  txt(745, 422, "Coulombic Efficiency / %", { fs: 11, anchor: 'middle', rot: 90, color: blue });
  txt(630, 520, "Cycle Number", { fs: 11.5, anchor: 'middle' });
  txt(712, 483, "(i)", { fs: 22, anchor: 'end' });
}
</script>
</body></html>
